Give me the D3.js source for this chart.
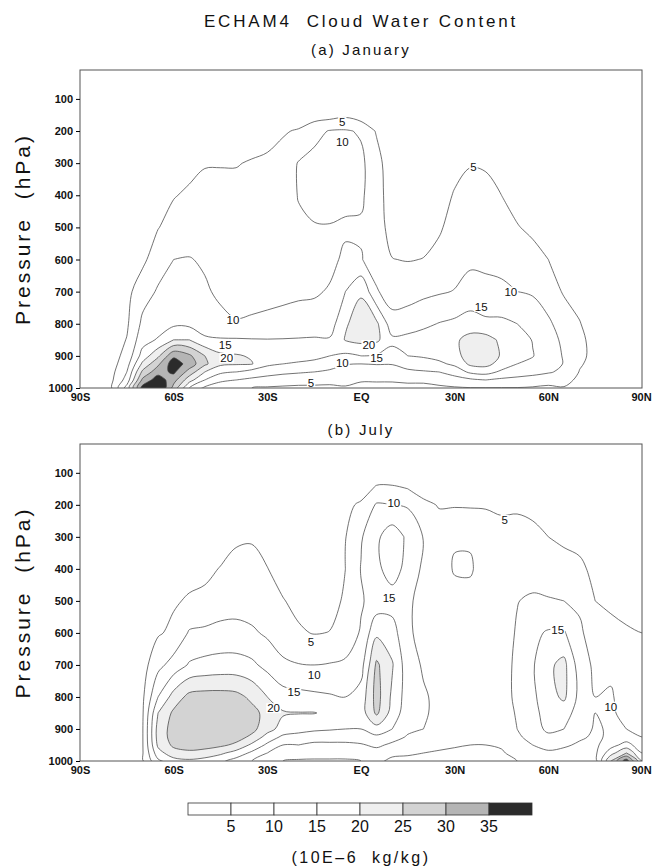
<!DOCTYPE html>
<html>
<head>
<meta charset="utf-8">
<script src="https://cdn.jsdelivr.net/npm/d3@7"></script>
<style>
  body { margin: 0; background: #fff; }
  text { font-family: "Liberation Sans", "DejaVu Sans", sans-serif; fill: #111; white-space: pre; }
  .tick text { font-family: "Liberation Sans", "DejaVu Sans", sans-serif; font-weight: bold; font-size: 11px; }
</style>
</head>
<body>
<svg id="chart" width="652" height="867"></svg>
<script>
// grid columns: latitude every 5 degrees, 90S .. 90N
var lats = d3.range(-90, 91, 5);
// grid rows: pressure levels (hPa), surface first
var levels = [1000, 975, 950, 925, 900, 850, 800, 700, 600, 500, 400, 300, 200, 150, 100, 10];
var zero = lats.map(function () { return 0; });

// (a) January, cloud water (1e-6 kg/kg), one array per level
var jan1000 = [0,1,4.5,17,37,42,28,15,9,7,6,5,4.5,4.2,4,4.2,4.3,4.5,3.5,3.5,3.5,3.5,3.5,4,4.5,4.8,4.8,4.8,4.8,4.5,4,4.7,3,2,1.5,1,0.5];
var jan975  = [0,1,4,12,31,38,32,22,15,11,10,9,8,7.5,7,6.5,6,6.5,5.5,5.5,5.5,6,6,7,8,9,10,9,8.5,8,7,6.5,4,2.5,2,1,0.5];
var jan950  = [0,1,3.5,10,26,33,36,28,20,16,15,13,12,11,10.5,10,9,8.5,8.8,8,8,9,9.5,10,12,16,17,14,12.5,11.5,10.5,9,4.8,3,2,1,0.5];
var jan925  = [0,1,3,8,21,29,38,33,26,21,20.5,20.3,16,15,14.5,14,12.5,10.2,10,10.2,10.2,12,13,14,16,21,21.5,18,15,14,12,9.8,5.5,3.5,2,1,0.5];
var jan900  = [0,0.5,3,6.5,17,24,34,31,25,21,20.5,19.5,17.5,17,16.5,16,15,14,15,14.5,13.5,15,15.5,16.5,18.5,22,23,19.5,16.5,15.2,12.5,9.6,6,3.8,2,1,0.5];
var jan850  = [0,0.5,2.5,5.2,13,15.5,20,20,16,15.5,15.5,15.3,15.2,15.3,15.5,15.7,15.5,20.3,21.5,21,16,16.5,17,17.5,19,22,22,19,17,14.8,12,9,6,3.5,2,1,0.5];
var jan800  = [0,0.5,2,4.3,11,12.5,14,13.8,12,11,10.2,10.4,10.6,10.8,11,11.5,12.5,19.5,22,21,12,12.5,14,15.2,16,17,16,16,15,13,10.8,7.8,5.2,3,1.5,1,0];
var jan700  = [0,0,1.5,3.5,8,10.5,11.5,11.5,10.5,9.3,9,9,9.2,9.4,9.6,9.6,10.3,15,19.5,10.5,7.5,8,8.8,9.5,10.2,12,11.5,11,10,9.5,7.5,4.5,3.5,2,1,0.5,0];
var jan600  = [0,0,1,2.5,3.8,8,10,10.2,9.5,8.5,8.3,8.3,8.5,8.8,9.2,9.3,9.2,10.6,10.3,7.5,5.1,4.8,5.1,6.2,8,9,8.8,8.5,7,6.2,5,3.5,2.5,1.5,1,0.5,0];
var jan500  = [0,0,0.5,1.5,3,4.8,7,7.8,8,7.5,7.4,7.4,7.6,8.2,9.3,9.8,9.8,9.5,9.4,6.8,3.5,3,3.5,4.5,6.5,7.5,7,6.5,5.2,4.3,3.5,2.5,1.5,1,0.5,0.3,0];
var jan400  = [0,0,0,1,2,3,4.7,5.8,6.5,6.2,6.2,6.4,6.6,7.8,10.2,11,11.5,11,10.8,7,2.5,2,2.5,3,5.4,6.2,5.8,5,3.8,3,2.5,1.5,1,0.5,0.3,0,0];
var jan300  = [0,0,0,0.5,1,1.5,3,3.5,4.7,4.8,4.8,5.3,5.6,7,10.3,11.5,12,11.5,11,7,1.5,1,1.5,2,3.5,4.8,4.7,3.5,2.5,2,1.5,1,0.5,0.3,0,0,0];
var jan200  = [0,0,0,0,0.5,1,1.5,2,2.5,2.5,2.5,3,3.8,4.5,5.5,8.5,10.3,10.5,9.5,4.5,1,0.5,0.8,1,1.5,2,2,1.5,1.2,1,0.8,0.5,0.3,0,0,0,0];
var jan150  = [0,0,0,0,0.3,0.5,0.8,1,1.2,1.2,1.2,1.5,1.8,2,2,2.5,3,4,2,1.5,0.5,0.3,0.4,0.5,0.8,1,1,0.8,0.6,0.5,0.4,0.2,0,0,0,0,0];
var jan100  = [0,0,0,0,0,0,0.5,0.5,0.5,0.5,0.5,0.5,0.8,1,1,1,0.5,0.5,0.5,0.3,0,0,0,0,0.3,0.3,0.3,0.3,0.2,0,0,0,0,0,0,0,0];
var jan10   = zero;

// (b) July
var jul1000 = [0,0.5,2,3.5,4.5,14,18,19,18,16,13,10,7,5,4.5,4.5,4.5,4.5,5,6,4,4,3.5,3,3,3,3,3.5,5,6,7,6,5,8,25,38,20];
var jul975  = [0,0.5,2,3.5,4.5,18,23,24,23,21,18,14,10,7.5,7,6.5,6.5,6.5,7,8,6,5.5,5,4.5,4,4,4,4.5,6.5,8,9,8,7,9,18,25,15];
var jul950  = [0,0.5,1.5,3,4.5,21,26,27,27,26,24,19,14,10,10,9,9,9,9.5,11,9,7.5,7,6,5.5,5,5,5.5,8,10,12,11,9,9,13,17,12];
var jul925  = [0,0.5,1.5,3,4.5,22,27,28,28,28,27,24,18,14,13,12,12,12,12.5,14,12,9.5,8.5,7.5,6.5,6,6,6.5,9,12,14,13,11,9,11,12,10];
var jul900  = [0,0.5,1,3,4.5,22,27,28.5,29,29,28,26.5,22,18,17,16,15.5,15,15,18,15,11,10,8.5,7,6.5,6.5,7,10,13,16,15,12,9.5,10.5,10,9];
var jul850  = [0,0.5,1,2.5,4.3,20,26,28,28.5,28.5,28,26.5,23.5,20.5,20.2,20.2,19,17,17.5,26,18,12,10.5,9,7.5,7,7,7.5,10.5,13.5,17,17,13,10,10.5,9,8];
var jul800  = [0,0.5,1,2,4,15,22,26.5,27,27,26.5,24,20,17,16.5,16,15.5,15,17,27,19,12.5,10.5,9,7.5,7.5,7.5,8,11,14,18,21,13.5,10,10.5,8,7];
var jul700  = [0,0,0.5,1.5,3,8.5,12,15.5,16.5,17,17,16,13.5,11,10.2,10,10.3,10.8,13,26,20.5,12,9.5,8,7,7,7.5,8,11,14.5,19,21.5,12.5,9,9,7,6];
var jul600  = [0,0,0.5,1,2,4.5,6,10.5,11,11.5,11.5,10.8,9.2,7,5.5,4.8,5.1,7,10.5,19,17,11,8,7,7,7.5,8,7.5,10.5,14,15.5,15.5,11,7,6.5,5.5,5];
var jul500  = [0,0,0,0.5,1,3,4.5,5.5,6,7.5,8,7.5,6.5,5.2,4,3.5,3.8,5.5,9.5,12,13,11,8,6.5,8,8.5,8,7,9.8,11,10.5,10,9,5,4,3.5,3];
var jul400  = [0,0,0,0,0.5,2,3,3.5,4,5.2,6,6,5.1,3.5,3,2.5,2.8,5,10.2,14,17,13.5,9,7.5,10.5,10.5,8,6.5,7,7,6.5,6,5.8,4,3,2.5,2];
var jul300  = [0,0,0,0,0,1,1.5,2,2.5,3,4.5,4.7,3.5,2,1.5,1.5,2,4.8,9.5,14,18,14,9.8,8,9.5,9.5,7.5,6,6,5.5,5,4.5,3.8,2,1.5,1,1];
var jul200  = [0,0,0,0,0,0.5,0.5,0.8,1,1,1.5,1.5,1,0.8,0.5,0.5,0.8,3.5,6,10.5,10,9.5,6.5,4.6,4.6,4.5,4.6,4.5,4.6,4.5,3.5,2.5,1.5,0.8,0.5,0.3,0];
var jul150  = [0,0,0,0,0,0,0.2,0.3,0.5,0.5,0.5,0.5,0.3,0.2,0,0,0.3,1,2,6,6,5,2.5,2,2,2,2,2,2,1.5,1,0.5,0.3,0,0,0,0];
var jul100  = [0,0,0,0,0,0,0,0,0,0,0,0,0,0,0,0,0,0,0.5,1.5,1.5,1,0.5,0.5,0.3,0.3,0.3,0.3,0.3,0.2,0,0,0,0,0,0,0];
var jul10   = zero;

// contour labels: [lat, hPa, text]
var janLabels = [[-6,172,"5"],[36,311,"5"],[-16,985,"5"],[-41,788,"10"],[-6,234,"10"],[48,700,"10"],
                 [-6,923,"10"],[-43.5,866,"15"],[38.5,747,"15"],[5,906,"15"],[-43,906,"20"],[2.5,866,"20"]];
var julLabels = [[-16,627,"5"],[46,247,"5"],[-15,731,"10"],[10.5,195,"10"],[-21.5,785,"15"],[9,491,"15"],
                 [63,590,"15"],[-28,835,"20"],[80,830,"10"]];

// contour levels, shading and colour bar
var thresholds = [5, 10, 15, 20, 25, 30, 35];
var shade = {20: "#efefef", 25: "#d3d3d3", 30: "#b5b5b5", 35: "#2b2b2b"};
var barColors = ["#fff", "#fff", "#fff", "#fff", "#efefef", "#d3d3d3", "#b5b5b5", "#2b2b2b"];
var latTicks = [-90, -60, -30, 0, 30, 60, 90];
var latNames = ["90S", "60S", "30S", "EQ", "30N", "60N", "90N"];
var pTicks = [100, 200, 300, 400, 500, 600, 700, 800, 900, 1000];

var svg = d3.select("#chart");
var x = d3.scaleLinear().domain([-90, 90]).range([80, 642]);

svg.append("text").attr("x", 361).attr("y", 27).attr("text-anchor", "middle")
    .style("font-size", "17px").style("letter-spacing", "2.8px")
    .text("ECHAM4  Cloud Water Content");

var panels = [
    { name: "a", title: "(a) January", titleY: 55, top: 70, bottom: 388, labels: janLabels,
      rows: [jan1000, jan975, jan950, jan925, jan900, jan850, jan800, jan700, jan600, jan500, jan400, jan300, jan200, jan150, jan100, jan10] },
    { name: "b", title: "(b) July", titleY: 435, top: 444, bottom: 761, labels: julLabels,
      rows: [jul1000, jul975, jul950, jul925, jul900, jul850, jul800, jul700, jul600, jul500, jul400, jul300, jul200, jul150, jul100, jul10] }
];

panels.forEach(function (p) {
    var y = d3.scaleLinear().domain([10, 1000]).range([p.top, p.bottom]);
    var nx = lats.length, ny = levels.length;
    // grid index -> latitude / pressure
    var ix = d3.scaleLinear().domain([0, nx - 1]).range([lats[0], lats[nx - 1]]);
    var iy = d3.scaleLinear().domain(d3.range(ny)).range(levels);
    var values = [].concat.apply([], p.rows);
    var contours = d3.contours().size([nx, ny]).thresholds(thresholds)(values);

    var line = d3.line().curve(d3.curveCatmullRomClosed.alpha(0.5));
    function pathOf(c) {
        return c.coordinates.map(function (poly) {
            return poly.map(function (ring) {
                return line(ring.map(function (pt) { return [x(ix(pt[0] - 0.5)), y(iy(pt[1] - 0.5))]; }));
            }).join("");
        }).join("");
    }

    svg.append("text").attr("x", 361).attr("y", p.titleY).attr("text-anchor", "middle")
        .style("font-size", "15px").style("letter-spacing", "2.2px").text(p.title);

    svg.append("clipPath").attr("id", "clip" + p.name)
        .append("rect").attr("x", 80).attr("y", p.top).attr("width", 562).attr("height", p.bottom - p.top);

    var g = svg.append("g").attr("clip-path", "url(#clip" + p.name + ")");
    // shaded bands
    g.selectAll("path.band").data(contours.filter(function (c) { return shade[c.value]; }))
        .enter().append("path").attr("class", "band")
        .attr("d", pathOf).attr("fill", function (c) { return shade[c.value]; })
        .attr("fill-rule", "evenodd").attr("stroke", "none");
    // contour lines
    g.selectAll("path.line").data(contours)
        .enter().append("path").attr("class", "line")
        .attr("d", pathOf).attr("fill", "none")
        .attr("stroke", "#444").attr("stroke-width", 0.75);

    // contour labels on a white patch that breaks the line
    var labs = g.selectAll("g.lab").data(p.labels).enter().append("g").attr("class", "lab")
        .attr("transform", function (d) { return "translate(" + x(d[0]) + "," + y(d[1]) + ")"; });
    labs.append("rect").attr("fill", "#fff");
    labs.append("text").attr("dy", "0.35em").attr("text-anchor", "middle")
        .style("font-size", "11.5px")
        .text(function (d) { return d[2]; });
    labs.each(function () {
        var b = d3.select(this).select("text").node().getBBox();
        d3.select(this).select("rect").attr("x", b.x - 1).attr("y", b.y + 1)
            .attr("width", b.width + 2).attr("height", b.height - 2);
    });

    // frame
    svg.append("rect").attr("x", 80).attr("y", p.top).attr("width", 562).attr("height", p.bottom - p.top)
        .attr("fill", "none").attr("stroke", "#555").attr("stroke-width", 1);

    // axes
    var ya = svg.append("g").attr("transform", "translate(80,0)")
        .call(d3.axisLeft(y).tickValues(pTicks).tickSize(4).tickPadding(3).tickFormat(d3.format("d")));
    ya.select(".domain").remove();
    var xa = svg.append("g").attr("transform", "translate(0," + p.bottom + ")")
        .call(d3.axisBottom(x).tickValues(latTicks).tickSize(0).tickPadding(5)
            .tickFormat(function (d, i) { return latNames[i]; }));
    xa.select(".domain").remove();
    xa.selectAll(".tick text").filter(function (d) { return d === 90; }).attr("dx", "-1px");

    svg.append("text")
        .attr("transform", "translate(30," + ((p.top + p.bottom) / 2) + ") rotate(-90)")
        .attr("text-anchor", "middle")
        .style("font-size", "21px").style("letter-spacing", "3px")
        .text("Pressure  (hPa)");
});

// colour bar
var cb = d3.scaleBand().domain(d3.range(barColors.length)).range([188, 532]);
svg.append("g").selectAll("rect").data(barColors).enter().append("rect")
    .attr("x", function (d, i) { return cb(i); }).attr("y", 803)
    .attr("width", cb.bandwidth()).attr("height", 12)
    .attr("fill", function (d) { return d; }).attr("stroke", "#333").attr("stroke-width", 0.8);
svg.append("g").selectAll("text").data(thresholds).enter().append("text")
    .attr("x", function (d, i) { return cb(i + 1); }).attr("y", 832)
    .attr("text-anchor", "middle")
    .style("font-size", "16px")
    .text(function (d) { return d; });
svg.append("text").attr("x", 361).attr("y", 863).attr("text-anchor", "middle")
    .style("font-size", "16px").style("letter-spacing", "2.5px")
    .text("(10E\u20136  kg/kg)");
</script>
</body>
</html>
